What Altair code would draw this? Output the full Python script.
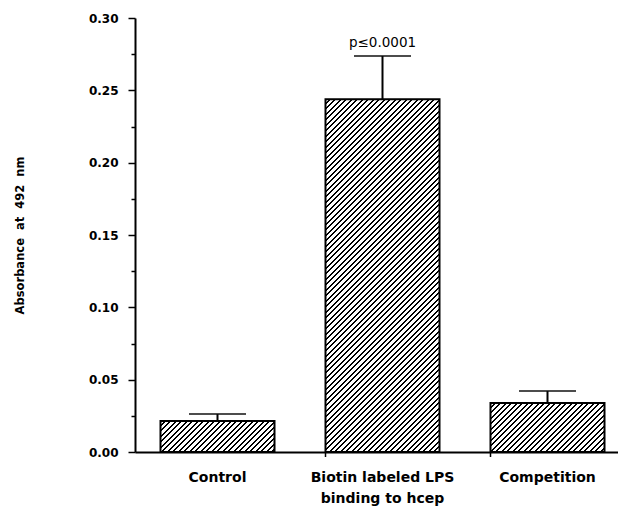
import altair as alt
import pandas as pd

# ---- data ----
categories = ["Control", "Biotin labeled LPS\nbinding to hcep", "Competition"]
means = [0.0214, 0.2438, 0.0338]
err_tops = [0.0262, 0.2737, 0.0421]
p_labels = ["", "p\u22640.0001", ""]
y_tick_values = [0.0, 0.025, 0.05, 0.075, 0.10, 0.125, 0.15, 0.175, 0.20,
                 0.225, 0.25, 0.275, 0.30]
y_title = "Absorbance\u00a0\u00a0at\u00a0\u00a0492\u00a0\u00a0nm"

# ---- layout constants ----
PLOT_H = 434
Y_MAX = 0.30
RANGE_W = 495
W = 483
STEP = RANGE_W / 3
BAR_W = 114
P_IN = 1 - BAR_W / STEP
FONT = "DejaVu Sans"

df = pd.DataFrame({"idx": list(range(3)), "cat": categories, "mean": means,
                   "top": err_tops, "p": p_labels})


def hatch(h, w=BAR_W, period=5.5, frac=0.36):
    total = w + h
    k = total / (w * w + h * h)
    a, b = w * k, h * k
    n = total / period
    stops = []
    i = 0
    while i / n < 1:
        s = i / n
        e1 = min((i + 1 - frac) / n, 1)
        e2 = min((i + 1) / n, 1)
        stops += [{"offset": s, "color": "white"},
                  {"offset": e1, "color": "white"},
                  {"offset": e1, "color": "black"},
                  {"offset": e2, "color": "black"}]
        i += 1
    return {"gradient": "linear", "x1": 0, "y1": 0, "x2": a, "y2": b,
            "stops": stops}


xscale = alt.Scale(domain=categories, range=[0, RANGE_W],
                   paddingInner=P_IN, paddingOuter=P_IN / 2)
yscale = alt.Scale(domain=[0, Y_MAX], nice=False, zero=True)

xaxis = alt.Axis(title=None, ticks=False, domainWidth=2, domainColor="black",
                 labelAngle=0, labelFont=FONT, labelFontWeight="bold",
                 labelFontSize=14, labelColor="black", labelPadding=18,
                 labelLineHeight=21, labelExpr="split(datum.label, '\\n')")

yaxis = alt.Axis(title=y_title, values=y_tick_values, domainWidth=2,
                 domainColor="black", tickColor="black", tickWidth=1.5,
                 tickSize={"condition": {"test": "round(datum.value*1000) % 50 == 0",
                                         "value": 7}, "value": 4},
                 labelExpr="(round(datum.value*1000) % 50 == 0) ? format(datum.value, '.2f') : ''",
                 labelFont=FONT, labelFontWeight="bold", labelFontSize=12,
                 labelColor="black", labelPadding=10,
                 titleFont=FONT, titleFontWeight="bold", titleFontSize=11.5,
                 titleColor="black", titleX=-110)


def X(**kw):
    return alt.X("cat:N", scale=xscale, axis=xaxis, **kw)


def Y(field):
    return alt.Y(f"{field}:Q", scale=yscale, axis=yaxis)


base = alt.Chart(df)

bars = []
for i, m in enumerate(means):
    h = m / Y_MAX * PLOT_H
    bars.append(
        base.transform_filter(alt.datum.idx == i)
        .mark_bar(fill=hatch(h), stroke="black", strokeWidth=2)
        .encode(x=X(), y=Y("mean"))
    )

err_line = base.mark_rule(color="black", strokeWidth=2).encode(
    x=X(), y=Y("mean"), y2="top:Q")
err_cap = base.mark_tick(color="black", thickness=2, size=57).encode(
    x=X(), y=Y("top"))

p_text = base.transform_filter(alt.datum.p != "").mark_text(
    font=FONT, fontSize=13.5, color="black", dy=-9, baseline="alphabetic"
).encode(x=X(), y=Y("top"), text="p:N")

bound_ticks = base.transform_filter(alt.datum.idx > 0).mark_rule(
    color="black", strokeWidth=1.5
).encode(x=X(bandPosition=0), y=alt.value(PLOT_H), y2=alt.value(PLOT_H + 5))

chart = alt.layer(*bars, err_line, err_cap, p_text, bound_ticks).properties(
    width=W, height=PLOT_H,
    autosize=alt.AutoSizeParams(type="none"),
    padding={"left": 127, "top": 10, "right": 0, "bottom": 54},
    background="white",
).configure_view(stroke=None).configure_axis(grid=False)

chart.save("out.html", embed_options={"renderer": "svg", "actions": False})
